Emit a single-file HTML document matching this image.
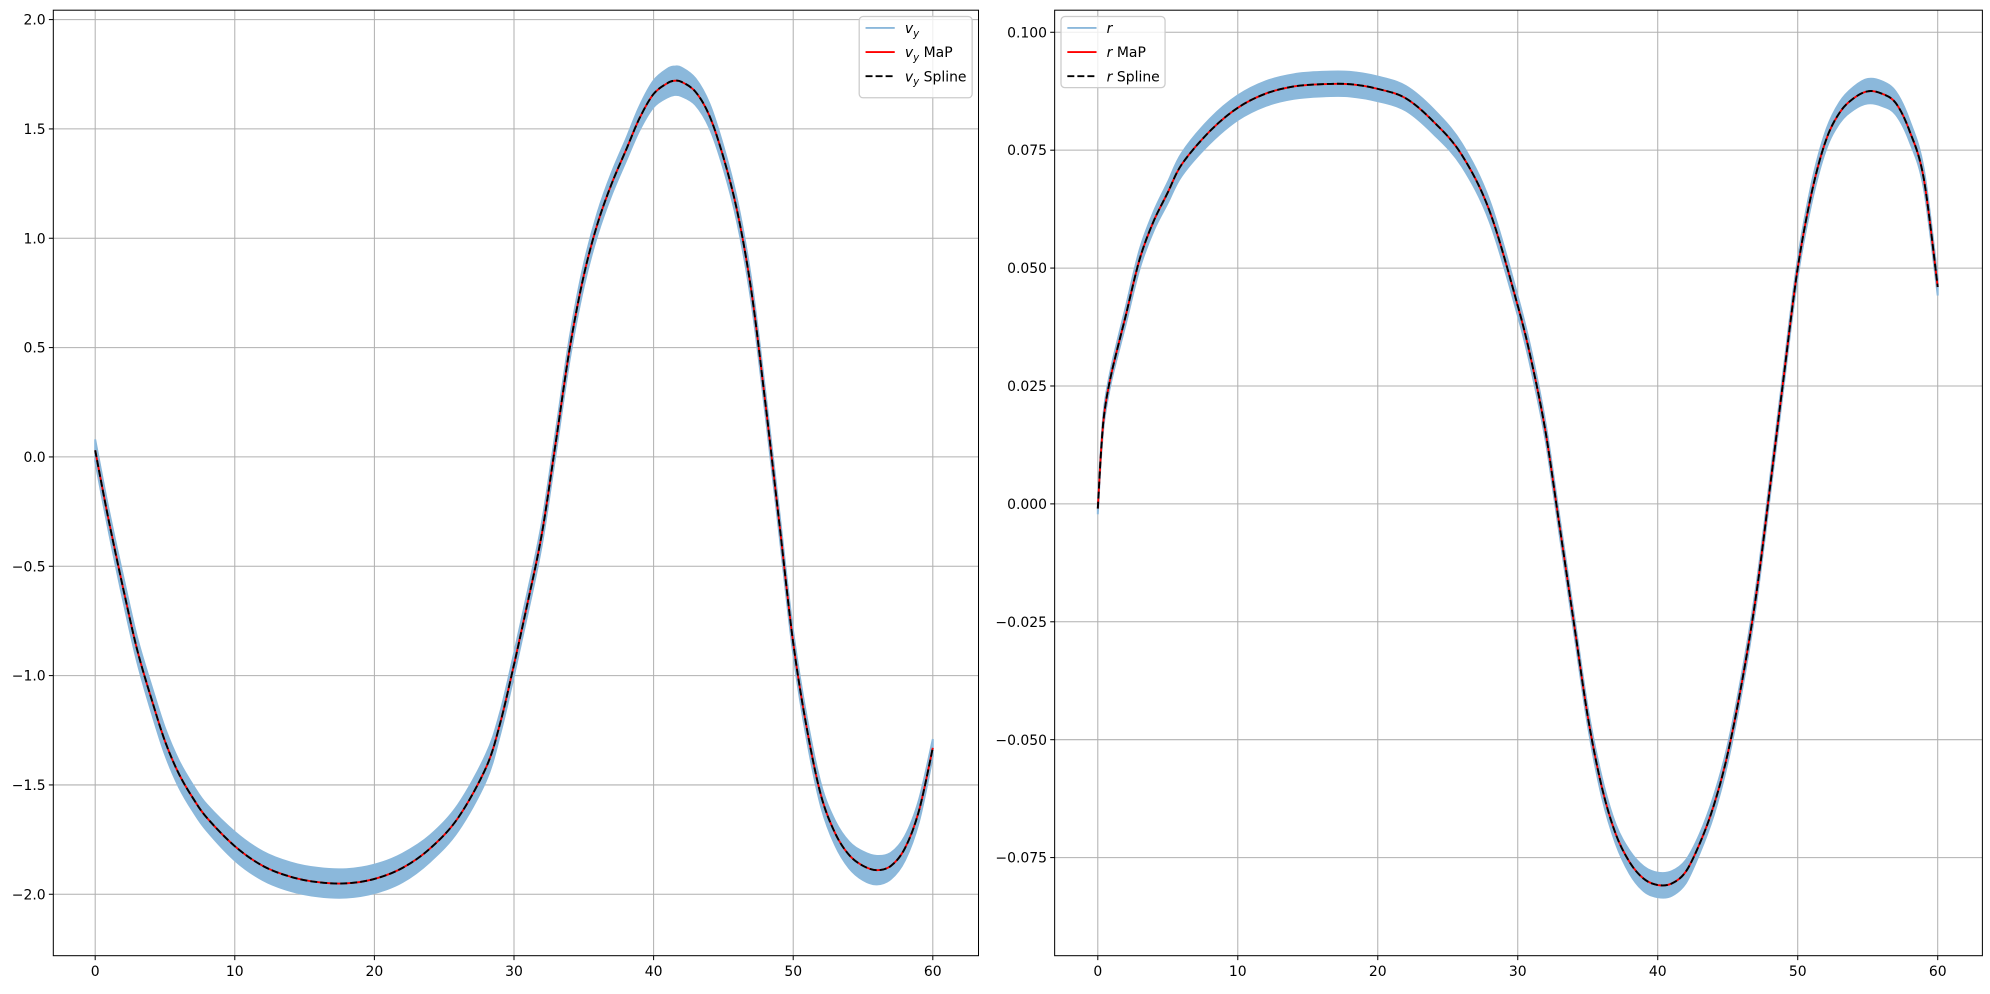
<!DOCTYPE html>
<html><head><meta charset="utf-8"><style>
body{margin:0;background:#fff;font-family:"DejaVu Sans","Liberation Sans",sans-serif;}
svg text{font-family:"DejaVu Sans","Liberation Sans",sans-serif;font-size:11px;fill:#000}
</style></head><body>
<svg id="c" width="1990" height="990" viewBox="0 0 1568 780" xmlns="http://www.w3.org/2000/svg"></svg>
<script>
// Left panel data (v_y)
const vyT = [0,1,2,3,4,5,6,7,8,10,12,14,16,18,20,22,24,26,28,29,30,31,32,33,34,35,36,37,38,39,40,41,41.5,42,43,44,45,46,47,48,49,50,51,52,53,54,55,56,57,58,59,60];
const vyMaP = [0.03,-0.3,-0.6,-0.88,-1.1,-1.3,-1.45,-1.56,-1.65,-1.78,-1.87,-1.92,-1.945,-1.95,-1.93,-1.88,-1.79,-1.65,-1.42,-1.22,-0.95,-0.66,-0.35,0.07,0.5,0.83,1.07,1.25,1.4,1.55,1.66,1.71,1.72,1.715,1.67,1.56,1.37,1.12,0.76,0.25,-0.3,-0.85,-1.25,-1.55,-1.72,-1.82,-1.87,-1.89,-1.87,-1.79,-1.62,-1.33];
const vyNoise = [0.05,0.05,0.055,0.055,0.06,0.06,0.06,0.06,0.06,0.065,0.065,0.065,0.065,0.065,0.065,0.065,0.06,0.06,0.06,0.05,0.05,0.05,0.05,0.05,0.05,0.05,0.05,0.05,0.05,0.055,0.06,0.065,0.065,0.065,0.06,0.055,0.05,0.05,0.05,0.05,0.05,0.05,0.05,0.05,0.055,0.06,0.065,0.065,0.06,0.055,0.05,0.04];
const vyTicksX = [0,10,20,30,40,50,60];
const vyTicksY = [-2.0,-1.5,-1.0,-0.5,0.0,0.5,1.0,1.5,2.0];
// Right panel data (r)
const rT = [0,0.25,0.5,1,2,3,4,5,6,8,10,12,14,16,18,20,22,24,26,28,30,31,32,33,34,35,36,37,38,39,40,41,42,43,44,45,46,47,48,49,50,51,52,53,54,55,56,57,58,59,60];
const rMaP = [-0.001,0.012,0.02,0.028,0.04,0.052,0.06,0.066,0.072,0.079,0.084,0.087,0.0885,0.089,0.089,0.088,0.086,0.081,0.074,0.062,0.042,0.03,0.015,-0.005,-0.025,-0.045,-0.06,-0.07,-0.076,-0.0795,-0.0808,-0.0805,-0.078,-0.072,-0.064,-0.053,-0.038,-0.02,0.003,0.027,0.05,0.066,0.077,0.083,0.086,0.0875,0.087,0.085,0.079,0.069,0.046];
const rNoise = [0.0012,0.0012,0.0015,0.0015,0.0018,0.002,0.002,0.0022,0.0024,0.0026,0.0026,0.0026,0.0026,0.0026,0.0026,0.0026,0.0026,0.0026,0.0024,0.0022,0.002,0.002,0.0018,0.0018,0.0018,0.0018,0.002,0.002,0.0024,0.0026,0.0026,0.0026,0.0024,0.002,0.002,0.0018,0.0018,0.0018,0.0018,0.0018,0.0018,0.002,0.002,0.0022,0.0024,0.0026,0.0026,0.0024,0.0022,0.002,0.0018];
const rTicksX = [0,10,20,30,40,50,60];
const rTicksY = [-0.075,-0.05,-0.025,0,0.025,0.05,0.075,0.1];

const NS="http://www.w3.org/2000/svg", svg=document.getElementById('c');
function mk(tag,attrs,parent){const e=document.createElementNS(NS,tag);for(const k in attrs)e.setAttribute(k,attrs[k]);(parent||svg).appendChild(e);return e;}
function path(pts){
  let d='M'+pts[0][0].toFixed(1)+','+pts[0][1].toFixed(1);
  for(let i=0;i<pts.length-1;i++){const p0=pts[Math.max(0,i-1)],p1=pts[i],p2=pts[i+1],p3=pts[Math.min(pts.length-1,i+2)];
    d+='C'+(p1[0]+(p2[0]-p0[0])/6).toFixed(1)+','+(p1[1]+(p2[1]-p0[1])/6).toFixed(1)+' '+(p2[0]-(p3[0]-p1[0])/6).toFixed(1)+','+(p2[1]-(p3[1]-p1[1])/6).toFixed(1)+' '+p2[0].toFixed(1)+','+p2[1].toFixed(1);}
  return d;}
function panel(o){
  const g=mk('g',{});
  
  
  const X=v=>o.x0+(v-o.xv0)*o.xs, Y=v=>o.y0-(v-o.yv0)*o.ys;
  const gg=mk('g',{},g);
  o.tx.forEach(t=>{const l=mk('line',{x1:X(t),x2:X(t),y1:o.top,y2:o.bot,stroke:'#b0b0b0','stroke-width':0.8},gg);
    
    mk('line',{x1:X(t),x2:X(t),y1:o.bot,y2:o.bot+3.5,stroke:'#000','stroke-width':0.8},g);
    const tx=mk('text',{x:X(t),y:o.bot+16,'text-anchor':'middle'},g);tx.textContent=t;
    });
  o.ty.forEach(t=>{const l=mk('line',{x1:o.left,x2:o.right,y1:Y(t),y2:Y(t),stroke:'#b0b0b0','stroke-width':0.8},gg);
    
    mk('line',{x1:o.left-3.5,x2:o.left,y1:Y(t),y2:Y(t),stroke:'#000','stroke-width':0.8},g);
    const tx=mk('text',{x:o.left-6,y:Y(t)+4,'text-anchor':'end'},g);tx.textContent=o.fmt(t);
    });
  const up=o.t.map((t,i)=>[X(t),Y(o.v[i]+o.n[i])]), lo=o.t.map((t,i)=>[X(t),Y(o.v[i]-o.n[i])]).reverse();
  const band=mk('path',{d:path(up)+'L'+path(lo).slice(1)+'Z',fill:'#8bb8db',stroke:'#8bb8db','stroke-width':1.5},g);
  
  const pts=o.t.map((t,i)=>[X(t),Y(o.v[i])]);
  const red=mk('path',{d:path(pts),fill:'none',stroke:'#ff0000','stroke-width':1.5},g);
  
  const blk=mk('path',{d:path(pts),fill:'none',stroke:'#000','stroke-width':1.5,'stroke-dasharray':'5.5,2.4'},g);
  
  const fr=mk('rect',{x:o.left,y:o.top,width:o.right-o.left,height:o.bot-o.top,fill:'none',stroke:'#000','stroke-width':0.8},g);
  
  const L=mk('g',{},g);
  
  mk('rect',{x:o.lx,y:o.ly,width:o.lw,height:o.lh,rx:3,fill:'#fff','fill-opacity':0.8,stroke:'#ccc'},L);
  const items=[['#8bb8db',''],['#ff0000',''],['#000','5.5,2.4']];
  const suf=['',' MaP',' Spline'];
  items.forEach((it,i)=>{const y=o.ly+9+i*19;
    mk('line',{x1:o.lx+5,x2:o.lx+28,y1:y,y2:y,stroke:it[0],'stroke-width':1.5,'stroke-dasharray':it[1]||'none'},L);
    const tx=mk('text',{x:o.lx+36,y:y+4},L);
    
    const a=mk('tspan',{'font-style':'italic'},tx);a.textContent=o.sym;
    if(o.sub){const s=mk('tspan',{'font-style':'italic','font-size':'8',dy:3},tx);s.textContent=o.sub;
      if(suf[i]){const b=mk('tspan',{dy:-3},tx);b.textContent=suf[i];}}
    else if(suf[i]){const b=mk('tspan',{},tx);b.textContent=suf[i];}
  });
}
panel({name:'vy-panel',left:42,right:771,top:8,bot:753,x0:75,xv0:0,xs:11,y0:360,yv0:0,ys:172.3,
  tx:vyTicksX,ty:vyTicksY,fmt:t=>(t<0?'\u2212':'')+Math.abs(t).toFixed(1),t:vyT,v:vyMaP,n:vyNoise,
  lx:677,ly:13,lw:89,lh:64,sym:'v',sub:'y'});
panel({name:'r-panel',left:831,right:1562,top:8,bot:753,x0:865,xv0:0,xs:11.03,y0:397,yv0:0,ys:3716,
  tx:rTicksX,ty:rTicksY,fmt:t=>(t<0?'\u2212':'')+Math.abs(t).toFixed(3),t:rT,v:rMaP,n:rNoise,
  lx:836,ly:13,lw:82,lh:56,sym:'r',sub:''});
</script>
</body></html>
